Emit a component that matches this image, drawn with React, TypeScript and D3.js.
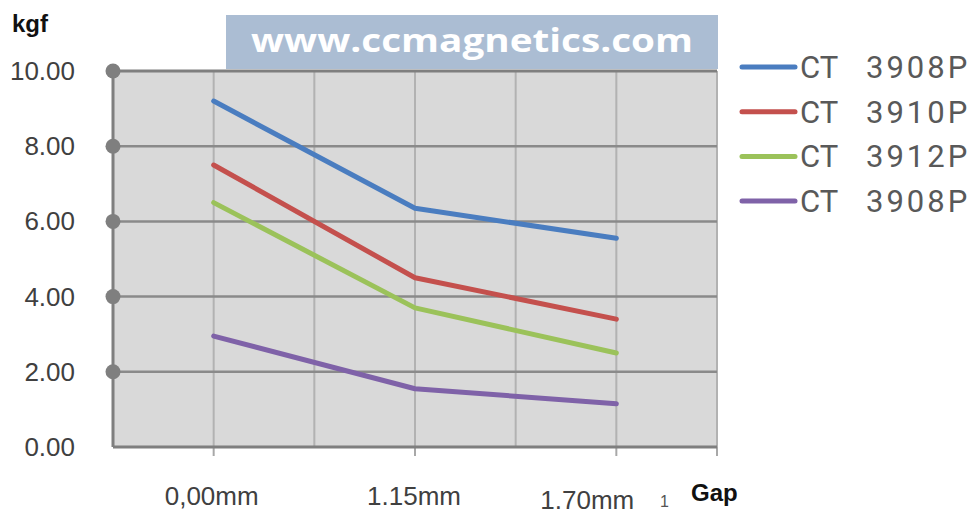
import React from "react";
import * as d3 from "d3";

// Holding force (kgf) by air gap for four CT magnet types
const gaps = ["0,00mm", "1.15mm", "1.70mm"];
const seriesPrefix = ["CT", "CT", "CT", "CT"];
const seriesCodes = ["3908P", "3910P", "3912P", "3908P"];
const seriesColors = ["#4a7dc0", "#c4504d", "#9bc25a", "#7f62a8"];
const forceA = [9.2, 6.35, 5.55];
const forceB = [7.5, 4.5, 3.4];
const forceC = [6.5, 3.7, 2.5];
const forceD = [2.95, 1.55, 1.15];
const yTicks = [0, 2, 4, 6, 8, 10];

const W = 974;
const H = 516;
const plot = { left: 113, right: 717, top: 71, bottom: 447 };

export default function App() {
  const seriesValues = [forceA, forceB, forceC, forceD];
  const x = d3.scalePoint<string>().domain(gaps).range([plot.left, plot.right]).padding(0.5);
  const y = d3.scaleLinear().domain([0, 10]).range([plot.bottom, plot.top]);
  const half = x.step() / 2;
  const vGrid = d3.range(1, gaps.length * 2 + 1).map((k) => plot.left + k * half);
  const line = d3
    .line<number>()
    .x((_, i) => x(gaps[i]) as number)
    .y((v) => y(v));
  const labelShift = [-2, -1, -29];
  const labelDrop = [0, 0, 4];

  return (
    <svg
      width={W}
      height={H}
      style={{ position: "absolute", left: 0, top: 0, background: "#fff" }}
    >
      {/* plot background */}
      <rect
        x={plot.left}
        y={plot.top}
        width={plot.right - plot.left}
        height={plot.bottom - plot.top}
        fill="#d9d9d9"
      />
      {/* vertical gridlines */}
      {vGrid.map((gx, i) => (
        <line key={"v" + i} x1={gx} x2={gx} y1={plot.top} y2={plot.bottom} stroke="#b2b2b2" strokeWidth={2} />
      ))}
      {/* tick marks below the x axis */}
      {[...gaps.map((g) => x(g) as number), plot.right].map((tx, i) => (
        <line key={"t" + i} x1={tx} x2={tx} y1={plot.bottom} y2={plot.bottom + 9} stroke="#a8a8a8" strokeWidth={2} />
      ))}
      {/* horizontal gridlines */}
      {yTicks
        .filter((t) => t > 0 && t < 10)
        .map((t) => (
          <line key={"h" + t} x1={plot.left} x2={plot.right} y1={y(t)} y2={y(t)} stroke="#8a8a8a" strokeWidth={2.5} />
        ))}
      {/* frame lines */}
      <line x1={plot.left} x2={plot.right} y1={y(10)} y2={y(10)} stroke="#7f7f7f" strokeWidth={3} />
      <line x1={plot.left} x2={plot.right} y1={plot.bottom} y2={plot.bottom} stroke="#7f7f7f" strokeWidth={3} />
      <line x1={plot.left} x2={plot.left} y1={plot.top} y2={plot.bottom} stroke="#7f7f7f" strokeWidth={3} />
      {/* y-axis markers */}
      {yTicks
        .filter((t) => t > 0)
        .map((t) => (
          <circle key={"c" + t} cx={plot.left} cy={y(t)} r={7.5} fill="#7f7f7f" />
        ))}
      {/* y tick labels */}
      {yTicks.map((t) => (
        <text
          key={"yl" + t}
          x={75}
          y={y(t) + 9}
          textAnchor="end"
          fontFamily="Liberation Sans, Arial, sans-serif"
          fontSize={26}
          fill="#404040"
        >
          {t.toFixed(2)}
        </text>
      ))}
      {/* x tick labels */}
      {gaps.map((g, i) => (
        <text
          key={"xl" + g}
          x={(x(g) as number) + labelShift[i]}
          y={505 + labelDrop[i]}
          textAnchor="middle"
          fontFamily="Liberation Sans, Arial, sans-serif"
          fontSize={26}
          fill="#404040"
        >
          {g}
        </text>
      ))}
      <text x={660} y={507} fontFamily="Liberation Sans, Arial, sans-serif" fontSize={16} fill="#555">
        1
      </text>
      <text x={691} y={501} fontFamily="Liberation Sans, Arial, sans-serif" fontSize={24} fontWeight="bold" fill="#111">
        Gap
      </text>
      <text x={12} y={32} fontFamily="Liberation Sans, Arial, sans-serif" fontSize={24} fontWeight="bold" fill="#111">
        kgf
      </text>
      {/* series */}
      {seriesValues.map((vals, i) => (
        <path
          key={"s" + i}
          d={line(vals) || ""}
          fill="none"
          stroke={seriesColors[i]}
          strokeWidth={5}
          strokeLinejoin="round"
          strokeLinecap="round"
        />
      ))}
      {/* site banner */}
      <rect x={226} y={15} width={492} height={54} fill="#abbdd3" />
      <text
        x={472}
        y={52}
        textAnchor="middle"
        fontFamily="Open Sans, Liberation Sans, sans-serif"
        fontWeight="bold"
        fontSize={32}
        fill="#ffffff"
        textLength={442}
        lengthAdjust="spacingAndGlyphs"
      >
        www.ccmagnetics.com
      </text>
      {/* legend */}
      {seriesCodes.map((code, i) => {
        const ly = 67 + i * 44.7;
        return (
          <g key={"lg" + i}>
            <line x1={742} x2={795} y1={ly} y2={ly} stroke={seriesColors[i]} strokeWidth={5} strokeLinecap="round" />
            <text
              y={ly + 11}
              fontFamily="Roboto, Noto Sans, sans-serif"
              fontSize={31}
              fill="#595959"
            >
              <tspan x={800}>{seriesPrefix[i]}</tspan>
              <tspan x={866} letterSpacing={3}>
                {code}
              </tspan>
            </text>
          </g>
        );
      })}
    </svg>
  );
}
